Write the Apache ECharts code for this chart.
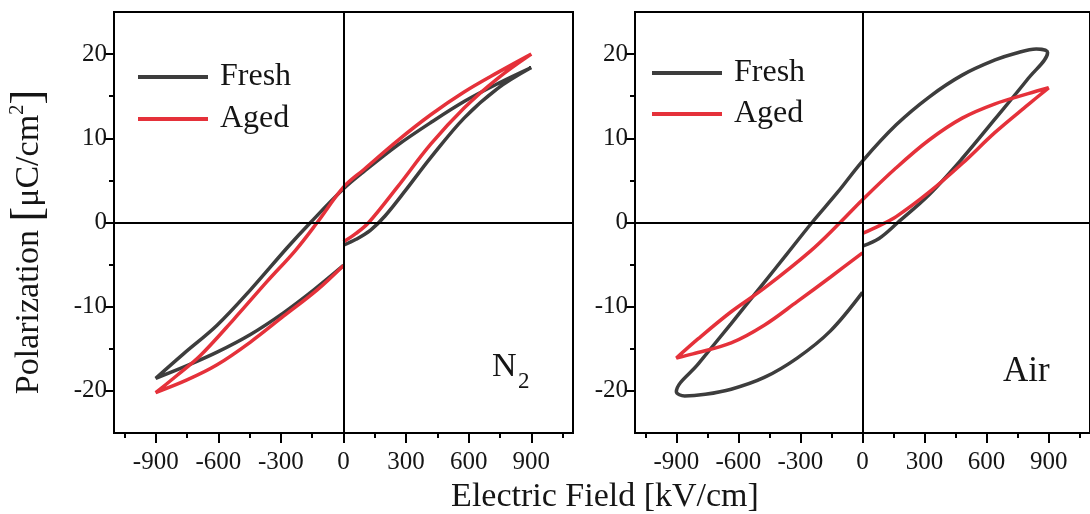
<!DOCTYPE html>
<html>
<head>
<meta charset="utf-8">
<script src="https://cdn.jsdelivr.net/npm/echarts@6/dist/echarts.min.js"></script>
<style>
html,body{margin:0;padding:0;background:#fff;}
#chart{width:1090px;height:514px;}
</style>
</head>
<body>
<div id="chart"></div>
<script>
// ---- tick labels ----
const xTicks = [-900, -600, -300, 0, 300, 600, 900];
const xMinorTicks = [-1050, -750, -450, -150, 150, 450, 750, 1050];
const yTicks = [-20, -10, 0, 10, 20];
const yMinorTicks = [-15, -5, 5, 15];
const seriesNames = ['Fresh', 'Aged'];
const panelLabels = ['N', 'Air'];

// ---- N2 panel: Fresh (path: 0 -> +900 -> -900 -> 0) ----
const n2FreshE = [0, 60, 130, 200, 300, 418, 578, 738, 900, 740, 580, 420, 260, 100, 0, -158, -270, -446, -606, -767, -900, -750, -606, -446, -286, -142, 0];
const n2FreshP = [-2.7, -2.0, -0.9, 0.8, 3.9, 7.7, 12.4, 15.9, 18.4, 16.5, 14.4, 11.9, 9.2, 6.1, 4.0, 0, -3.0, -8.0, -12.2, -15.6, -18.5, -17.0, -15.4, -13.3, -10.7, -8.0, -5.1];
// ---- N2 panel: Aged ----
const n2AgedE = [0, 60, 121, 258, 418, 578, 738, 900, 738, 578, 418, 258, 98, 0, -126, -230, -366, -526, -686, -800, -900, -750, -606, -446, -286, -126, 0];
const n2AgedP = [-2.3, -1.3, 0, 4.2, 9.3, 13.6, 17.1, 20.0, 17.8, 15.5, 12.8, 9.7, 6.3, 4.2, 0, -3.3, -7.0, -11.5, -15.8, -18.2, -20.2, -18.7, -16.9, -14.2, -11.1, -8.0, -5.1];

// ---- Air panel: Fresh ----
const airFreshE = [0, 80, 171, 322, 482, 641, 801, 895, 840, 741, 641, 482, 322, 163, 0, -120, -244, -364, -475, -635, -794, -900, -860, -760, -635, -475, -316, -156, 0];
const airFreshP = [-2.8, -1.9, 0, 3.3, 7.6, 12.3, 17.1, 20.2, 20.6, 20.1, 19.3, 17.5, 14.9, 11.6, 7.3, 3.6, 0, -3.7, -7.1, -12.0, -16.8, -20.1, -20.6, -20.4, -19.8, -18.4, -16.1, -12.9, -8.3];
// ---- Air panel: Aged ----
const airAgedE = [0, 80, 163, 322, 482, 641, 801, 900, 801, 641, 482, 322, 163, 0, -108, -252, -475, -635, -794, -900, -820, -635, -475, -316, -156, 0];
const airAgedP = [-1.3, -0.4, 0.7, 3.6, 7.0, 10.7, 14.0, 16.0, 15.3, 14.1, 12.4, 9.8, 6.5, 2.7, 0, -3.4, -7.8, -10.6, -13.8, -16.1, -15.6, -14.3, -12.2, -9.4, -6.5, -3.6];

const zip = (xs, ys) => xs.map((x, i) => [x, ys[i]]);

const FONT = 'Liberation Serif';
const TXT = '#151515';
const colors = { Fresh: '#3d3d3d', Aged: '#e5313a' };

const grids = [
  { left: 114, top: 12, width: 459, height: 421 },
  { left: 635, top: 12, width: 461, height: 421 }
];

function xMain(gi) {
  return {
    type: 'value', gridIndex: gi, min: -1100, max: 1100, position: 'bottom',
    axisLine: { show: true, onZero: false, lineStyle: { color: '#000', width: 2 } },
    axisTick: { show: true, length: 10, customValues: xTicks, lineStyle: { color: '#000', width: 2 } },
    axisLabel: { show: true, customValues: xTicks, margin: 17, fontFamily: FONT, fontSize: 25, color: TXT },
    splitLine: { show: false }
  };
}
function xMinor(gi) {
  return {
    type: 'value', gridIndex: gi, min: -1100, max: 1100, position: 'bottom',
    axisLine: { show: false, onZero: false },
    axisTick: { show: true, length: 5, customValues: xMinorTicks, lineStyle: { color: '#000', width: 2 } },
    axisLabel: { show: false },
    splitLine: { show: false }
  };
}
function yMain(gi) {
  return {
    type: 'value', gridIndex: gi, min: -25, max: 25, position: 'left',
    axisLine: { show: true, onZero: false, lineStyle: { color: '#000', width: 2 } },
    axisTick: { show: true, length: 10, customValues: yTicks, lineStyle: { color: '#000', width: 2 } },
    axisLabel: { show: true, customValues: yTicks, margin: 7, fontFamily: FONT, fontSize: 25, color: TXT },
    splitLine: { show: false }
  };
}
function yMinor(gi) {
  return {
    type: 'value', gridIndex: gi, min: -25, max: 25, position: 'left',
    axisLine: { show: false, onZero: false },
    axisTick: { show: true, length: 5, customValues: yMinorTicks, lineStyle: { color: '#000', width: 2 } },
    axisLabel: { show: false },
    splitLine: { show: false }
  };
}

function loop(name, xs, ys, axisBase, withZero) {
  const s = {
    type: 'line', name: name,
    xAxisIndex: axisBase, yAxisIndex: axisBase,
    data: zip(xs, ys),
    smooth: 0.35,
    symbol: 'none', showSymbol: false,
    lineStyle: { color: colors[name], width: 3.5 },
    itemStyle: { color: colors[name] },
    z: name === 'Aged' ? 4 : 3,
    animation: false
  };
  if (withZero) {
    s.markLine = {
      silent: true, symbol: ['none', 'none'], animation: false,
      label: { show: false },
      lineStyle: { color: '#000', width: 2, type: 'solid' },
      data: [{ xAxis: 0 }, { yAxis: 0 }]
    };
  }
  return s;
}

function legendAt(left, top, gap) {
  return {
    left: left, top: top, orient: 'vertical', icon: 'rect',
    itemWidth: 70, itemHeight: 4, itemGap: gap,
    data: seriesNames,
    textStyle: { fontFamily: FONT, fontSize: 32, color: TXT, padding: [0, 0, 0, 7] }
  };
}

const chart = echarts.init(document.getElementById('chart'), null, { renderer: 'canvas' });
chart.setOption({
  animation: false,
  backgroundColor: '#fff',
  grid: grids.map(g => Object.assign({ show: true, borderColor: '#000', borderWidth: 2, backgroundColor: 'transparent' }, g)),
  xAxis: [xMain(0), xMinor(0), xMain(1), xMinor(1)],
  yAxis: [yMain(0), yMinor(0), yMain(1), yMinor(1)],
  legend: [legendAt(133, 56, 10), legendAt(647, 52, 9)],
  series: [
    loop('Fresh', n2FreshE, n2FreshP, 0, true),
    loop('Aged', n2AgedE, n2AgedP, 0, false),
    loop('Fresh', airFreshE, airFreshP, 2, true),
    loop('Aged', airAgedE, airAgedP, 2, false)
  ],
  graphic: [
    { type: 'text', x: 605, y: 497, silent: true,
      style: { text: 'Electric Field [kV/cm]', fontFamily: FONT, fontSize: 34, fill: TXT,
        align: 'center', verticalAlign: 'middle', textAlign: 'center', textVerticalAlign: 'middle' } },
    { type: 'text', x: 29, y: 242, rotation: Math.PI / 2, silent: true,
      style: {
        text: '{t|Polarization }{b|[}{t|μC/cm}{s|2}{b|]}',
        fill: TXT, align: 'center', verticalAlign: 'middle', textAlign: 'center', textVerticalAlign: 'middle',
        rich: {
          t: { fontFamily: FONT, fontSize: 34, fill: TXT, lineHeight: 44, verticalAlign: 'middle' },
          b: { fontFamily: FONT, fontSize: 44, fill: TXT, lineHeight: 44, verticalAlign: 'middle' },
          s: { fontFamily: FONT, fontSize: 21, fill: TXT, lineHeight: 26, verticalAlign: 'top' }
        }
      } },
    { type: 'text', x: 492, y: 367, silent: true,
      style: { text: panelLabels[0], fontFamily: FONT, fontSize: 34, fill: TXT,
        align: 'left', verticalAlign: 'middle', textAlign: 'left', textVerticalAlign: 'middle' } },
    { type: 'text', x: 518, y: 382, silent: true,
      style: { text: '2', fontFamily: FONT, fontSize: 23, fill: TXT,
        align: 'left', verticalAlign: 'middle', textAlign: 'left', textVerticalAlign: 'middle' } },
    { type: 'text', x: 1003, y: 372, silent: true,
      style: { text: panelLabels[1], fontFamily: FONT, fontSize: 35, fill: TXT,
        align: 'left', verticalAlign: 'middle', textAlign: 'left', textVerticalAlign: 'middle' } }
  ]
});
</script>
</body>
</html>
